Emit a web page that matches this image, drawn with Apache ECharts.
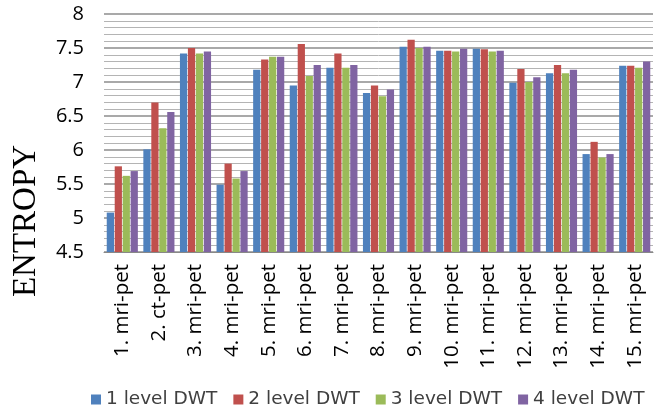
<!DOCTYPE html>
<html>
<head>
<meta charset="utf-8">
<script src="https://cdn.jsdelivr.net/npm/echarts@6/dist/echarts.min.js"></script>
<style>
  html, body { margin: 0; padding: 0; background: #fff; }
  #chart { width: 661px; height: 408px; }
</style>
</head>
<body>
<div id="chart"></div>
<script>
const categories = [
  "1. mri-pet", "2. ct-pet", "3. mri-pet", "4. mri-pet", "5. mri-pet",
  "6. mri-pet", "7. mri-pet", "8. mri-pet", "9. mri-pet", "10. mri-pet",
  "11. mri-pet", "12. mri-pet", "13. mri-pet", "14. mri-pet", "15. mri-pet"
];
const dwt1 = [5.08, 6.01, 7.42, 5.49, 7.18, 6.95, 7.21, 6.84, 7.52, 7.46, 7.49, 6.99, 7.13, 5.94, 7.24];
const dwt2 = [5.76, 6.70, 7.50, 5.80, 7.33, 7.56, 7.42, 6.95, 7.62, 7.46, 7.48, 7.19, 7.25, 6.12, 7.24];
const dwt3 = [5.62, 6.32, 7.42, 5.58, 7.37, 7.09, 7.21, 6.79, 7.50, 7.45, 7.45, 7.00, 7.13, 5.89, 7.21];
const dwt4 = [5.69, 6.56, 7.45, 5.69, 7.37, 7.25, 7.25, 6.89, 7.52, 7.49, 7.46, 7.07, 7.18, 5.94, 7.30];
const seriesNames = ["1 level DWT", "2 level DWT", "3 level DWT", "4 level DWT"];
const colors = ["#4F81BD", "#C0504D", "#9BBB59", "#8064A2"];

const chart = echarts.init(document.getElementById("chart"));
const font = "'Open Sans', sans-serif";

const option = {
  animation: false,
  color: colors,
  grid: { left: 104, right: 8, top: 14, bottom: 156 },
  legend: {
    top: 385,
    left: 86,
    itemWidth: 10,
    itemHeight: 10,
    itemGap: 16,
    icon: "rect",
    textStyle: { fontFamily: "'DejaVu Sans', sans-serif", fontSize: 18.5, color: "#404040" },
    data: seriesNames
  },
  graphic: [{
    type: "text",
    x: 26,
    y: 221,
    rotation: Math.PI / 2,
    style: {
      text: "ENTROPY",
      fontFamily: "'Liberation Serif', 'DejaVu Serif', serif",
      fontSize: 33,
      fill: "#000",
      align: "center",
      verticalAlign: "middle"
    }
  }],
  xAxis: {
    type: "category",
    data: categories,
    axisLine: { lineStyle: { color: "#888" } },
    axisTick: { show: false },
    axisLabel: {
      rotate: 90,
      interval: 0,
      margin: 12,
      fontFamily: font,
      fontSize: 20.5,
      color: "#000"
    }
  },
  yAxis: {
    type: "value",
    min: 4.5,
    max: 8,
    interval: 0.5,
    axisLine: { show: false },
    axisTick: { show: false },
    axisLabel: { margin: 20, fontFamily: font, fontSize: 20, color: "#000" },
    splitLine: { lineStyle: { color: "#8c8c8c", width: 1.5 } },
    minorTick: { show: false, splitNumber: 5 },
    minorSplitLine: { show: true, lineStyle: { color: "#b4b4b4", width: 1 } }
  },
  series: [dwt1, dwt2, dwt3, dwt4].map((d, i) => ({
    name: seriesNames[i],
    type: "bar",
    data: d,
    barGap: "10%",
    barCategoryGap: "15%"
  }))
};

chart.setOption(option);
</script>
</body>
</html>
